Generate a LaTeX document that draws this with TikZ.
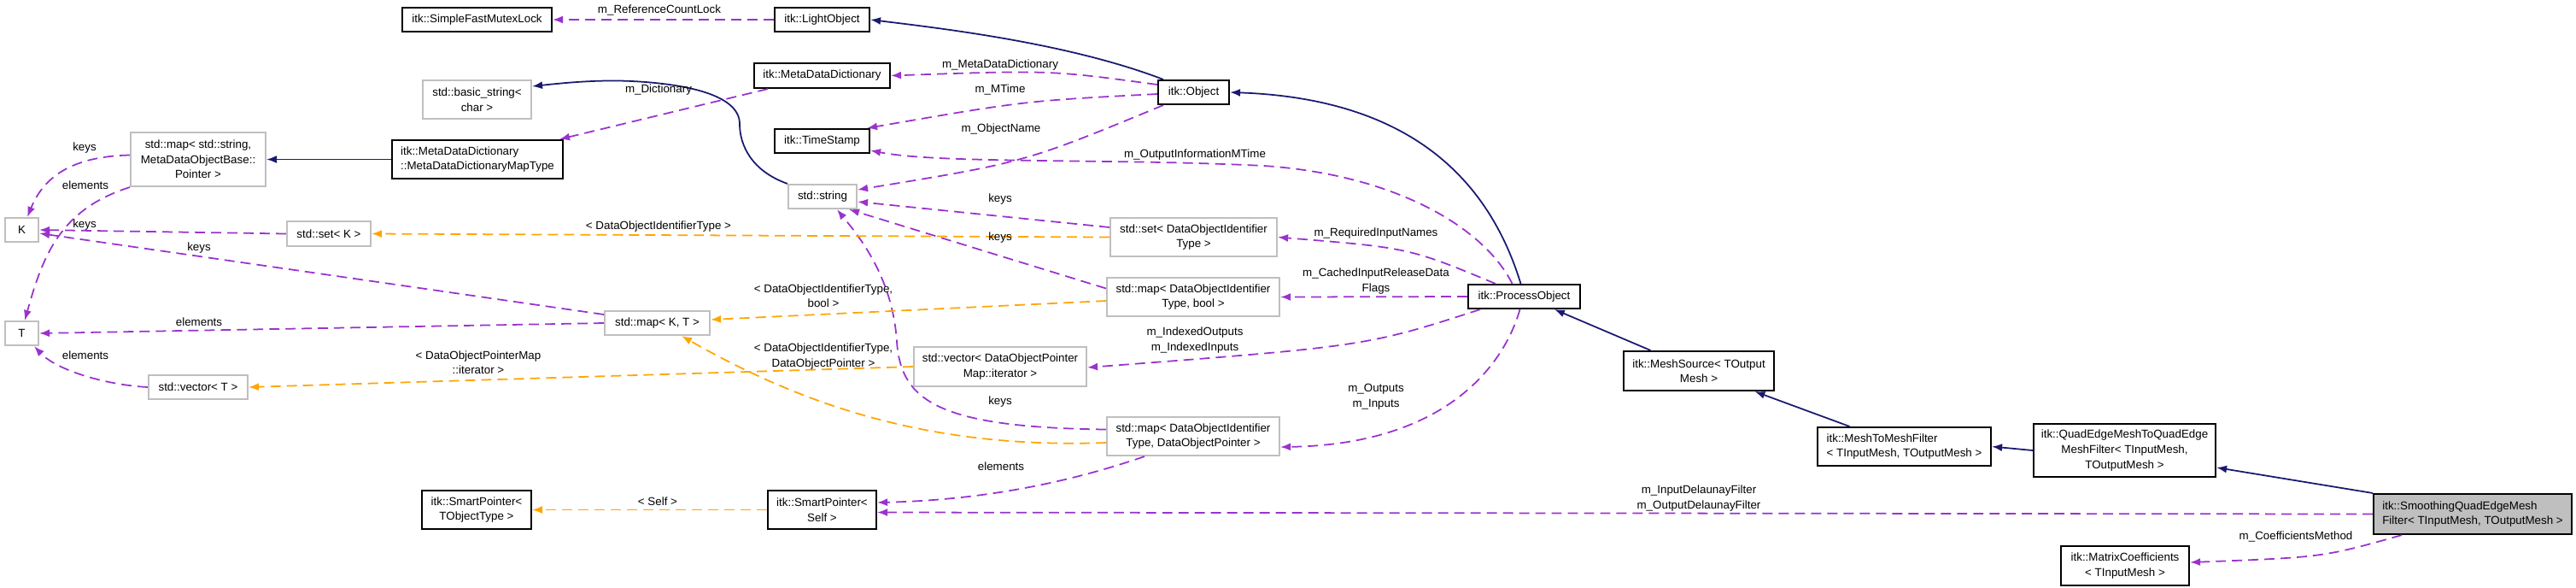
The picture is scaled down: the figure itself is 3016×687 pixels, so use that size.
\documentclass[tikz,border=0pt]{standalone}
\usepackage{fontspec}
\setmainfont{Liberation Sans}
\usetikzlibrary{arrows.meta}
\definecolor{purp}{HTML}{9A32CD}
\definecolor{orng}{HTML}{FFA500}
\definecolor{navy}{HTML}{191970}
\definecolor{gbox}{HTML}{BFBFBF}
\newcommand\bx[7]{\node[#2,minimum width={0.01cm*#5},minimum height={0.01cm*#6}] (#1) at (#3,#4) {#7};}
\begin{document}
\begin{tikzpicture}[x=0.01cm,y=-0.01cm,
  font=\fontsize{3.8}{5}\selectfont,
  box/.style={draw=black,line width=0.6pt,inner sep=0pt,align=center,fill=white},
  gb/.style={box,draw=gbox},
  cur/.style={box,fill=gbox},
  tip/.style={-{Latex[length=0.12cm,width=0.09cm]}},
  inh/.style={tip,draw=navy,line width=0.5pt},
  use/.style={tip,draw=purp,line width=0.5pt,dash pattern=on 3.4pt off 2pt},
  tpl/.style={tip,draw=orng,line width=0.5pt,dash pattern=on 3.4pt off 2pt},
  lbl/.style={inner sep=0pt,align=center}]
\useasboundingbox (0,0) rectangle (3016,687);
% nodes
\bx{sfml}{box}{558.5}{23}{175}{28}{itk::SimpleFastMutexLock}
\bx{light}{box}{962.5}{23}{111}{28}{itk::LightObject}
\bx{bstr}{gb}{558.5}{116.5}{127}{45}{std::basic\_string<\\char >}
\bx{mdd}{box}{962.5}{88.5}{159}{29}{itk::MetaDataDictionary}
\bx{obj}{box}{1397.5}{108}{83}{28}{itk::Object}
\bx{ts}{box}{962.5}{165}{111}{28}{itk::TimeStamp}
\bx{smap}{gb}{232}{186.5}{158}{63}{std::map< std::string,\\MetaDataObjectBase::\\Pointer >}
\bx{mdmt}{box,align=left}{559}{186.5}{200}{45}{itk::MetaDataDictionary\\::MetaDataDictionaryMapType}
\bx{str}{gb}{963}{230}{80}{28}{std::string}
\bx{K}{gb}{25.5}{269}{39}{28}{K}
\bx{setK}{gb}{385}{273.5}{98}{29}{std::set< K >}
\bx{setD}{gb}{1397.5}{277.5}{195}{45}{std::set< DataObjectIdentifier\\Type >}
\bx{mapDb}{gb}{1397}{347.5}{202}{45}{std::map< DataObjectIdentifier\\Type, bool >}
\bx{po}{box}{1784.5}{347}{131}{28}{itk::ProcessObject}
\bx{mapKT}{gb}{769.5}{378}{123}{28}{std::map< K, T >}
\bx{T}{gb}{25.5}{390}{39}{28}{T}
\bx{ms}{box}{1989}{434}{176}{46}{itk::MeshSource< TOutput\\Mesh >}
\bx{vecD}{gb}{1171}{429}{202}{46}{std::vector< DataObjectPointer\\Map::iterator >}
\bx{vecT}{gb}{232}{453}{116}{28}{std::vector< T >}
\bx{mapDP}{gb}{1397}{510.5}{202}{45}{std::map< DataObjectIdentifier\\Type, DataObjectPointer >}
\bx{m2m}{box,align=left}{2229.5}{522.5}{203}{45}{itk::MeshToMeshFilter\\< TInputMesh, TOutputMesh >}
\bx{quad}{box}{2487.5}{527}{213}{62}{itk::QuadEdgeMeshToQuadEdge\\MeshFilter< TInputMesh,\\TOutputMesh >}
\bx{spT}{box}{558}{596.5}{128}{45}{itk::SmartPointer<\\TObjectType >}
\bx{spS}{box}{962.5}{596.5}{127}{45}{itk::SmartPointer<\\Self >}
\bx{sm}{cur,align=left}{2895}{601.5}{232}{47}{itk::SmoothingQuadEdgeMesh\\Filter< TInputMesh, TOutputMesh >}
\bx{mc}{box}{2488}{662}{150}{46}{itk::MatrixCoefficients\\< TInputMesh >}
% inheritance
\draw[inh] ([xshift=0.07cm]obj.north west) .. controls (1250,50) and (1100,33) .. (light.east);
\draw[inh] ([xshift=-0.04cm]po.north) .. controls (1740,200) and (1640,115) .. (obj.east);
\draw[inh] (ms) -- (po);
\draw[inh] (m2m) -- (ms);
\draw[inh] (quad.west) -- (m2m.east);
\draw[inh] (sm.north west) -- ([yshift=0.12cm]quad.south east);
\draw[inh] (mdmt.west) -- (smap.east);
\draw[inh] (str.north west) .. controls (880,200) and (866,170) .. (866,145) .. controls (866,110) and (800,98) .. (740,95) .. controls (700,93) and (660,97) .. ([yshift=0.155cm]bstr.east);
% usage
\draw[use] (light.west) -- (sfml.east);
\draw[use] ([yshift=0.09cm]obj.west) .. controls (1230,82) .. (mdd.east);
\draw[use] ([yshift=-0.02cm]obj.west) .. controls (1200,118) .. ([xshift=-0.04cm]ts.north east);
\draw[use] ([xshift=0.07cm]obj.south west) .. controls (1200,190) .. ([yshift=0.08cm]str.east);
\draw[use] ([xshift=-0.14cm]po.north) .. controls (1740,270) and (1640,205) .. (1480,194) .. controls (1300,185) and (1100,192) .. ([yshift=-0.11cm]ts.east);
\draw[use] ([xshift=0.17cm]mdd.south west) -- ([xshift=-0.05cm]mdmt.north east);
\draw[use] ([yshift=0.05cm]smap.west) .. controls (80,183) and (50,210) .. ([xshift=0.065cm]K.north);
\draw[use] (smap.south west) .. controls (70,245) and (50,300) .. ([xshift=0.035cm]T.north);
\draw[use] (setK.west) -- (K.east);
\draw[use] ([yshift=0.1cm]mapKT.west) -- ([yshift=-0.04cm]K.east);
\draw[use] (mapKT.west) -- (T.east);
\draw[use] (vecT.west) .. controls (120,450) and (65,432) .. ([xshift=-0.06cm]T.south east);
\draw[use] ([yshift=0.115cm]setD.west) -- ([yshift=-0.06cm]str.east);
\draw[use] ([yshift=0.1cm]mapDb.west) -- ([xshift=-0.1cm]str.south east);
\draw[use] ([yshift=0.08cm]mapDP.west) .. controls (1100,500) and (1055,470) .. (1050,400) .. controls (1045,320) and (1000,270) .. ([xshift=0.17cm]str.south);
\draw[use] ([xshift=0.45cm]mapDP.south west) .. controls (1250,565) and (1150,585) .. ([yshift=0.085cm]spS.east);
\draw[use] ([xshift=-0.335cm]po.north) .. controls (1650,290) .. (setD.east);
\draw[use] (po.west) -- (mapDb.east);
\draw[use] ([xshift=0.15cm]po.south west) .. controls (1600,405) .. ([yshift=-0.01cm]vecD.east);
\draw[use] ([xshift=-0.05cm]po.south) .. controls (1760,430) and (1690,520) .. ([yshift=-0.125cm]mapDP.east);
\draw[use] (sm.west) -- ([yshift=-0.03cm]spS.east);
\draw[use] ([xshift=0.34cm]sm.south west) .. controls (2720,652) .. ([yshift=0.04cm]mc.east);
% templates
\draw[tpl] (setD.west) -- (setK.east);
\draw[tpl] ([yshift=-0.045cm]mapDb.west) -- ([yshift=0.04cm]mapKT.east);
\draw[tpl] ([yshift=-0.075cm]mapDP.west) .. controls (1100,525) and (950,480) .. ([xshift=0.285cm]mapKT.south);
\draw[tpl] (vecD.west) -- (vecT.east);
\draw[tpl] (spS.west) -- (spT.east);
% labels
\node[lbl] (l1) at (772,12) {m\_ReferenceCountLock};
\node[lbl] (l2) at (1171,76) {m\_MetaDataDictionary};
\node[lbl] (l3) at (1171,105) {m\_MTime};
\node[lbl] (l4) at (1172,151) {m\_ObjectName};
\node[lbl] (l5) at (1399,181) {m\_OutputInformationMTime};
\node[lbl] (l6) at (771,105) {m\_Dictionary};
\node[lbl] (l7) at (99,173) {keys};
\node[lbl] (l8) at (100,217) {elements};
\node[lbl] (l9) at (99,263) {keys};
\node[lbl] (l10) at (233,290) {keys};
\node[lbl] (l11) at (233,377) {elements};
\node[lbl] (l12) at (100,416) {elements};
\node[lbl] (l13) at (1171,233) {keys};
\node[lbl] (l14) at (1171,278) {keys};
\node[lbl] (l15) at (1171,470) {keys};
\node[lbl] (l16) at (1172,546) {elements};
\node[lbl] (l17) at (1611,273) {m\_RequiredInputNames};
\node[lbl] (l18) at (1611,329) {m\_CachedInputReleaseData\\Flags};
\node[lbl] (l19) at (1399,398) {m\_IndexedOutputs\\m\_IndexedInputs};
\node[lbl] (l20) at (1611,464) {m\_Outputs\\m\_Inputs};
\node[lbl] (l21) at (1989,583) {m\_InputDelaunayFilter\\m\_OutputDelaunayFilter};
\node[lbl] (l22) at (2688,628) {m\_CoefficientsMethod};
\node[lbl] (l23) at (771,265) {< DataObjectIdentifierType >};
\node[lbl] (l24) at (964,346) {< DataObjectIdentifierType,\\bool >};
\node[lbl] (l25) at (964,417) {< DataObjectIdentifierType,\\DataObjectPointer >};
\node[lbl] (l26) at (560,424) {< DataObjectPointerMap\\::iterator >};
\node[lbl] (l27) at (770,587) {< Self >};
\end{tikzpicture}
\end{document}
